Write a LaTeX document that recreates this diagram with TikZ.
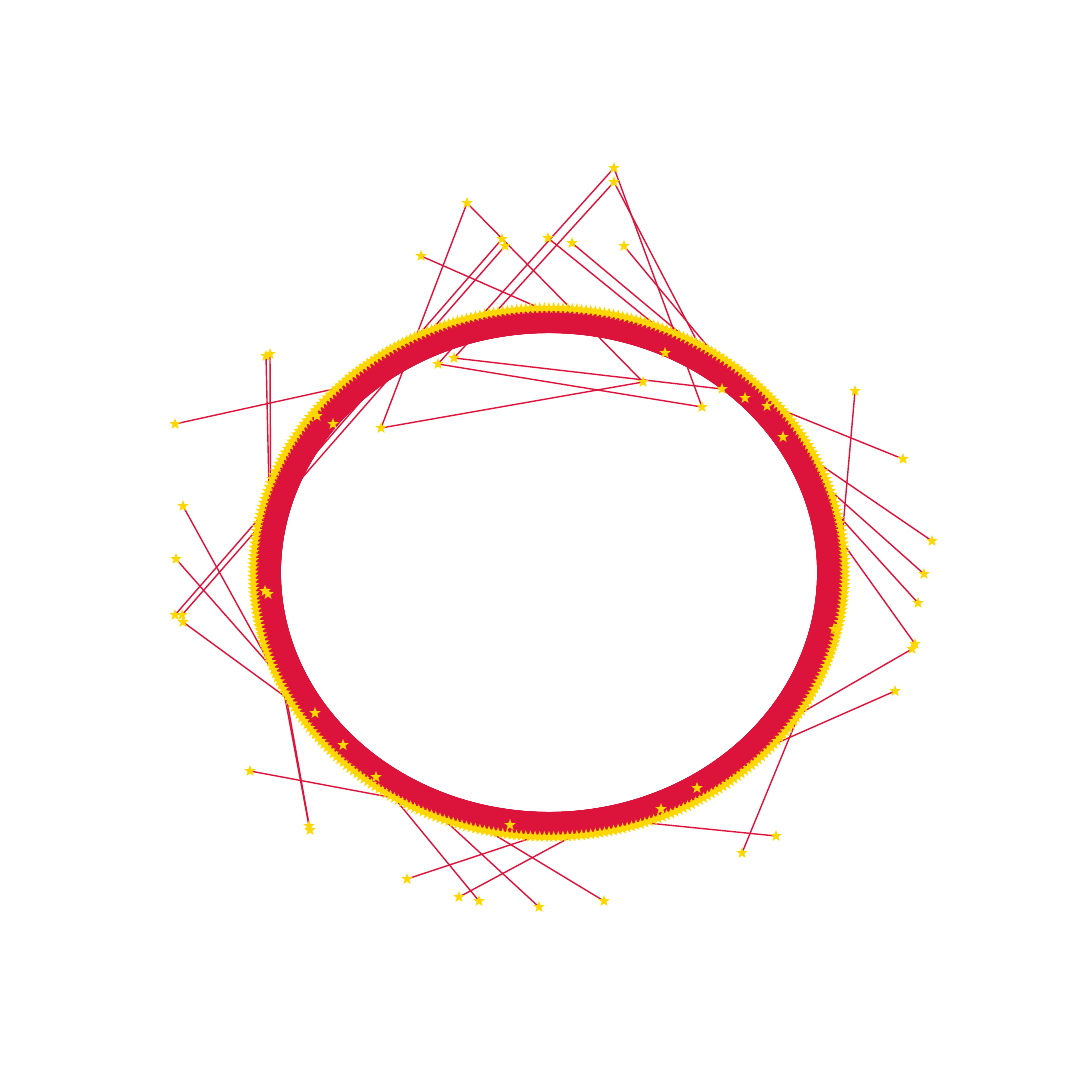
\documentclass[tikz,border=0pt]{standalone}
\usetikzlibrary{shapes.geometric}
\definecolor{crimson}{HTML}{DC143C}
\definecolor{gold}{HTML}{FFD700}

\begin{document}
\begin{tikzpicture}[
        x=0.01cm, y=-0.01cm,
        % Edges
        edge/.style={draw=crimson, line width=0.4pt},
        % Star markers
        starnode/.style={
            star, star points=5, star point ratio=2.4,
            fill=gold, inner sep=0pt, minimum size=0.12cm
        }
    ]
        \useasboundingbox (0,0) rectangle (1080,1080);

        % Ring positions
        \foreach \i in {0,...,399}
            \coordinate (r\i) at ({549+296*cos(0.9*\i)}, {572.5-264.5*sin(0.9*\i)});

        % Free positions
        \foreach \n/\px/\py in {t1/614/168, t2/614/182, t3/467/203, t4/502/239, t5/505/246,
                t6/421/256, t7/548/238, t8/572/243, t9/624/246,
                h1/454/358, h2/438/364, h3/722/389, h4/702/407, h5/643/382, h6/381/428,
                h7/665/353, h8/745/398, h9/767/406, h10/783/437, h11/317/416, h12/333/424,
                h13/265/591, h14/268/594, h15/315/713, h16/343/745, h17/376/777,
                h18/510/825, h19/661/809, h20/697/788, h21/834/629,
                l1/266/356, l2/270/354, l3/175/424, l4/183/506, l5/176/559, l6/175/615,
                l7/182/615, l8/183/622, l9/250/771, l10/309/826, l11/310/830,
                b1/407/879, b2/459/897, b3/479/901, b4/539/907, b5/604/901, b6/742/853,
                b7/776/836,
                e1/855/391, e2/903/459, e3/932/541, e4/924/574, e5/918/603, e6/915/644,
                e7/912/649, e8/895/691}
            \coordinate (\n) at (\px,\py);

        % Ring edges
        \foreach \i in {0,...,399}
            \draw [edge] \foreach \d [evaluate=\d as \j using {int(mod(\i+\d,400))}] in {1,...,55} {(r\i) -- (r\j)};

        % Other edges
        \foreach \a/\b in {t1/h2, t2/h1, t1/h4, t2/h3, h1/h3, h2/h4, t3/h6, t3/h5, h6/h5,
                t4/l6, t5/l7, t6/r102, t7/h8, t8/h9, t9/h10,
                l1/r179, l2/r178, l3/r151, l4/r232, l5/r224, l8/r232, l9/r265,
                l10/h13, l11/h14,
                b1/r297, b2/r305, b3/r265, b4/r277, b5/r287, b6/h21, b7/r321,
                e1/h21, e2/r42, e3/r27, e4/r20, e5/r14, e6/r7, e7/r364, e8/r355}
            \draw [edge] (\a) -- (\b);

        % Ring stars
        \foreach \i in {0,...,399}
            \node [starnode] (s\i) at (r\i) {};

        % Free stars
        \foreach \n in {t1, t2, t3, t4, t5, t6, t7, t8, t9,
                h1, h2, h3, h4, h5, h6, h7, h8, h9, h10, h11, h12, h13, h14, h15,
                h16, h17, h18, h19, h20, h21,
                l1, l2, l3, l4, l5, l6, l7, l8, l9, l10, l11,
                b1, b2, b3, b4, b5, b6, b7,
                e1, e2, e3, e4, e5, e6, e7, e8}
            \node [starnode] (s\n) at (\n) {};

    \end{tikzpicture}
\end{document}
